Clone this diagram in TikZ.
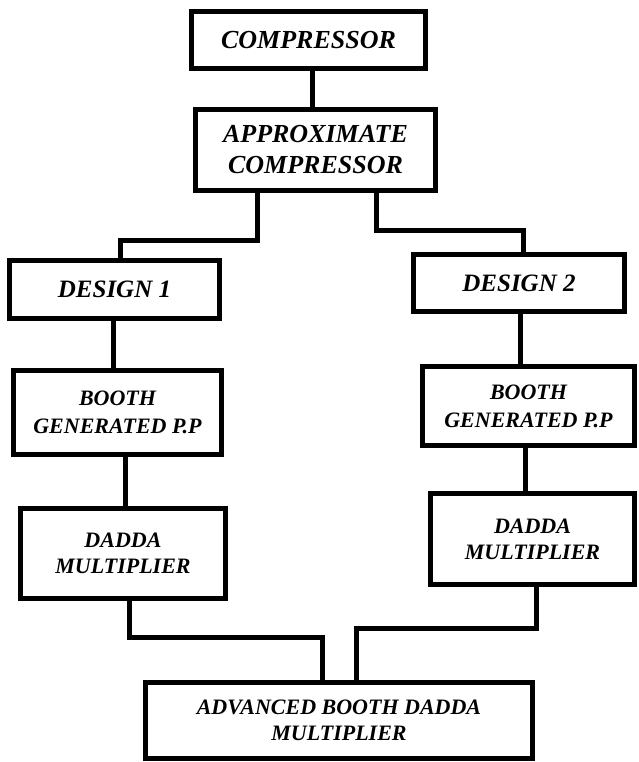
\documentclass[tikz,border=0pt]{standalone}
\usepackage{fontspec}
\setmainfont{Liberation Serif}
\begin{document}
\begin{tikzpicture}[x=1pt, y=-1pt, line width=5pt,
	blk/.style={draw, rectangle, align=center, inner sep=2pt,
		font=\bfseries\itshape\fontsize{22}{26}\selectfont},
	big/.style={font=\bfseries\itshape\fontsize{26}{31}\selectfont}]
	\useasboundingbox (0,0) rectangle (638,762);

	\node[blk, big, minimum width=234pt, minimum height=57pt] (comp) at (308.5, 40) {COMPRESSOR};
	\node[blk, big, minimum width=240pt, minimum height=81pt] (approx) at (315.5, 150) {APPROXIMATE\\COMPRESSOR};

	\node[blk, minimum width=210pt, minimum height=58pt, font=\bfseries\itshape\fontsize{25}{30}\selectfont] (dsgn1) at (114.5, 289.5) {DESIGN 1};
	\node[blk, minimum width=211pt, minimum height=57pt, font=\bfseries\itshape\fontsize{25}{30}\selectfont] (dsgn2) at (519, 283) {DESIGN 2};

	\node[blk, minimum width=208pt, minimum height=84pt, font=\bfseries\itshape\fontsize{22}{28}\selectfont] (pp1) at (117.5, 412.5) {BOOTH\\GENERATED P.P};
	\node[blk, minimum width=212pt, minimum height=79pt, font=\bfseries\itshape\fontsize{22}{28}\selectfont] (pp2) at (528.5, 406) {BOOTH\\GENERATED P.P};

	\node[blk, minimum width=205pt, minimum height=90pt] (mul1) at (123, 553.5) {DADDA\\MULTIPLIER};
	\node[blk, minimum width=204pt, minimum height=91pt] (mul2) at (532.5, 539) {DADDA\\MULTIPLIER};

	\node[blk, minimum width=387pt, minimum height=76pt] (abdm) at (339, 720.5) {ADVANCED BOOTH DADDA\\MULTIPLIER};

	\draw ([xshift=4pt]comp.south) -- ([xshift=4pt]comp.south |- approx.north);

	\draw ([xshift=-58.5pt]approx.south) -- ++(0,47) -| ([xshift=5.5pt]dsgn1.north);
	\draw ([xshift=60.5pt]approx.south) -- ++(0,37) -| ([xshift=4pt]dsgn2.north);

	\draw ([xshift=-1.5pt]dsgn1.south) -- ([xshift=-1.5pt]dsgn1.south |- pp1.north);
	\draw ([xshift=1pt]dsgn2.south) -- ([xshift=1pt]dsgn2.south |- pp2.north);

	\draw ([xshift=7.5pt]pp1.south) -- ([xshift=7.5pt]pp1.south |- mul1.north);
	\draw ([xshift=-3.5pt]pp2.south) -- ([xshift=-3.5pt]pp2.south |- mul2.north);

	\draw ([xshift=6pt]mul1.south) -- ++(0,36.5) -| ([xshift=-17pt]abdm.north);
	\draw ([xshift=3.5pt]mul2.south) -- ++(0,41.5) -| ([xshift=17pt]abdm.north);
\end{tikzpicture}
\end{document}
